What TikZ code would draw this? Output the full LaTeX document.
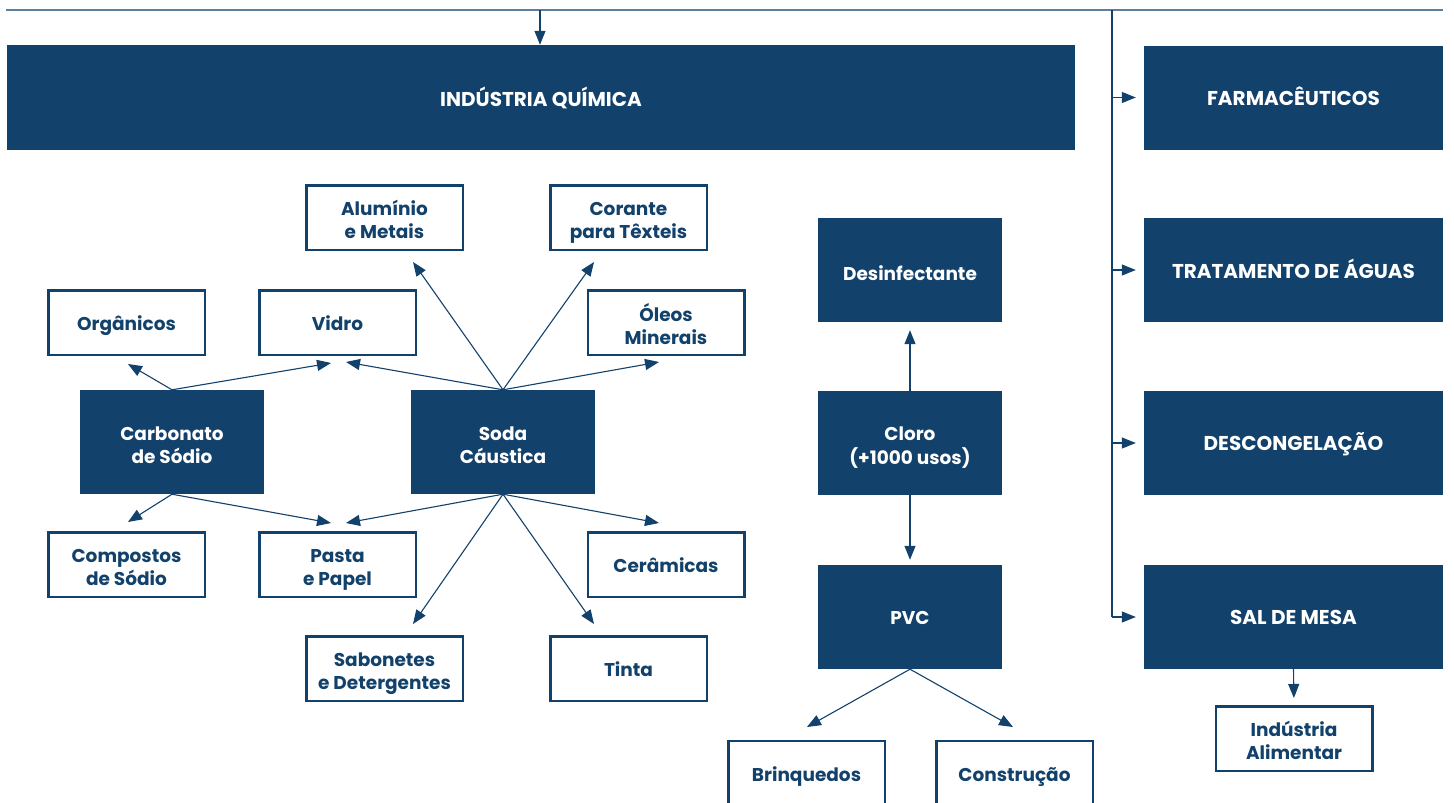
\documentclass[tikz,border=0pt]{standalone}
\usepackage{fontspec}
\setmainfont{Poppins}
\usetikzlibrary{arrows.meta}
\definecolor{navy}{HTML}{12416B}
\definecolor{topline}{HTML}{5C7FA0}
\newcommand{\lbl}[2][-5pt]{\raisebox{#1}[\height][\depth]{\begin{tabular}{@{}c@{}}#2\end{tabular}}}
\begin{document}
\begin{tikzpicture}[x=1pt,y=-1pt,
  fbox/.style={fill=navy,text=white,draw=none,inner sep=0pt,font=\fontsize{18.5}{23}\selectfont\bfseries},
  capsbox/.style={fbox,font=\fontsize{20}{24}\selectfont\bfseries},
  wbox/.style={fill=white,draw=navy,line width=2.5pt,text=navy,inner sep=0pt,minimum width=156.5pt,minimum height=64.5pt,font=\fontsize{18.5}{22.5}\selectfont\bfseries},
  mid/.style={minimum width=184pt,minimum height=104pt},
  rgt/.style={minimum width=299pt,minimum height=104pt},
  conn/.style={draw=navy,line width=1.1pt,-{Triangle[length=14pt,width=11pt]}},
  plain/.style={draw=navy,line width=1.1pt}
]
\useasboundingbox (0,0) rectangle (1454,803);

% filled boxes
\node[capsbox,minimum width=1068pt,minimum height=105pt] (iq) at (541,97.5) {\lbl[-2.5pt]{INDÚSTRIA QUÍMICA}};
\node[capsbox,rgt] (farm) at (1293.5,97.5) {\lbl[-2.5pt]{FARMACÊUTICOS}};
\node[capsbox,rgt] (agua) at (1293.5,270) {\lbl[-2.5pt]{TRATAMENTO DE ÁGUAS}};
\node[capsbox,rgt] (desc) at (1293.5,443) {\lbl[-2.5pt]{DESCONGELAÇÃO}};
\node[capsbox,rgt] (sal) at (1293.5,617) {\lbl[-2.5pt]{SAL DE MESA}};
\node[fbox,mid] (desinf) at (910,270) {\lbl[-6pt]{Desinfectante}};
\node[fbox,mid] (cloro) at (910,443) {\lbl{Cloro\\(+1000 usos)}};
\node[fbox,mid] (pvc) at (910,617) {\lbl[-2.5pt]{PVC}};
\node[fbox,mid] (carb) at (172,442) {\lbl{Carbonato\\de Sódio}};
\node[fbox,mid] (soda) at (503,442) {\lbl{Soda\\Cáustica}};

% white boxes
\node[wbox] (org) at (126.5,322.5) {\lbl[-3.5pt]{Orgânicos}};
\node[wbox] (vid) at (337.5,322.5) {\lbl[-3.5pt]{Vidro}};
\node[wbox] (alu) at (384.5,217.5) {\lbl{Alumínio\\e Metais}};
\node[wbox] (cor) at (628.5,217.5) {\lbl{Corante\\para Têxteis}};
\node[wbox] (ole) at (666,322.5) {\lbl{Óleos\\Minerais}};
\node[wbox] (comp) at (126.5,564.5) {\lbl{Compostos\\de Sódio}};
\node[wbox] (pas) at (337.5,564.5) {\lbl{Pasta\\e Papel}};
\node[wbox] (cer) at (666,564.5) {\lbl[-3.5pt]{Cerâmicas}};
\node[wbox] (sab) at (384.5,668.5) {\lbl{Sabonetes\\e Detergentes}};
\node[wbox] (tin) at (628.5,668.5) {\lbl[-3.5pt]{Tinta}};
\node[wbox] (ali) at (1294,738.5) {\lbl{Indústria\\Alimentar}};
\node[wbox] (brin) at (806.5,773) {\lbl[-3.5pt]{Brinquedos}};
\node[wbox] (cons) at (1014.5,773) {\lbl[-3.5pt]{Construção}};

% arrow tip coordinates
\coordinate (torg) at (128,364);
\coordinate (tvid1) at (331,363);
\coordinate (tvid2) at (346,362);
\coordinate (talu) at (413,262);
\coordinate (tcor) at (594,262);
\coordinate (tole) at (659,362);
\coordinate (tcomp) at (128,522);
\coordinate (tpas1) at (331,523);
\coordinate (tpas2) at (346,523);
\coordinate (tsab) at (413,624);
\coordinate (ttin) at (594,624);
\coordinate (tcer) at (659,523);
\coordinate (tbrin) at (807,727);
\coordinate (tcons) at (1013,727);

\draw[conn] (carb.north) -- (torg);
\draw[conn] (carb.north) -- (tvid1);
\draw[conn] (soda.north) -- (tvid2);
\draw[conn] (soda.north) -- (talu);
\draw[conn] (soda.north) -- (tcor);
\draw[conn] (soda.north) -- (tole);
\draw[conn] (carb.south) -- (tcomp);
\draw[conn] (carb.south) -- (tpas1);
\draw[conn] (soda.south) -- (tpas2);
\draw[conn] (soda.south) -- (tsab);
\draw[conn] (soda.south) -- (ttin);
\draw[conn] (soda.south) -- (tcer);

\draw[conn,shorten >=8pt] (cloro.north) -- (desinf.south);
\draw[conn,shorten >=5pt] (cloro.south) -- (pvc.north);
\draw[conn] (pvc.south) -- (tbrin);
\draw[conn] (pvc.south) -- (tcons);
\draw[conn,shorten >=7pt] (sal.south) -- (ali.north);

% top distribution lines
\coordinate (tl) at (6,10);
\coordinate (tr) at (1443,10);
\coordinate (tiq) at (540,10);
\coordinate (tv) at (1112,10);
\coordinate (vb) at (1112,617);
\draw[draw=topline,line width=1.5pt] (tl) -- (tr);
\draw[conn] (tiq) -- (tiq |- iq.north);
\draw[plain] (tv) -- (vb);
\draw[conn,shorten >=8pt] (tv |- farm.west) -- (farm.west);
\draw[conn,shorten >=8pt] (tv |- agua.west) -- (agua.west);
\draw[conn,shorten >=8pt] (tv |- desc.west) -- (desc.west);
\draw[conn,shorten >=8pt] (vb) -- (sal.west);
\end{tikzpicture}
\end{document}
